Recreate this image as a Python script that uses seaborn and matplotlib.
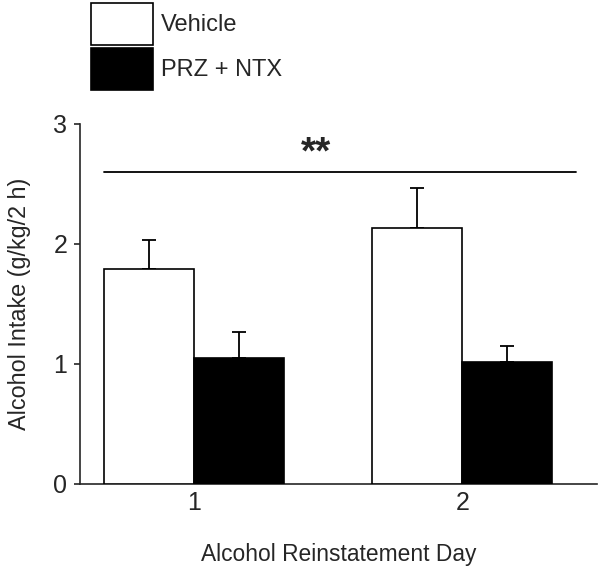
import numpy as np
import pandas as pd
import matplotlib
matplotlib.use("Agg")
import matplotlib.pyplot as plt
import seaborn as sns

days = ["1", "2"]
groups = ["Vehicle", "PRZ + NTX"]
vehicle_mean = [1.79, 2.13]
vehicle_sem = [0.24, 0.34]
prz_mean = [1.05, 1.02]
prz_sem = [0.22, 0.13]
sig_y = 2.6
sig_label = "**"

sns.set_style("ticks")
plt.rcParams["font.family"] = ["Liberation Sans", "DejaVu Sans"]

df = pd.DataFrame({
    "day": days * 2,
    "group": [groups[0]] * 2 + [groups[1]] * 2,
    "intake": vehicle_mean + prz_mean,
})
sems = [vehicle_sem, prz_sem]

fig = plt.figure(figsize=(6.01, 5.66), dpi=100)
ax = fig.add_axes([0.1331, 0.1449, 0.8597, 0.6361])

sns.barplot(data=df, x="day", y="intake", hue="group", hue_order=groups,
            palette=["white", "black"], edgecolor="black", linewidth=1.2,
            width=0.672, errorbar=None, ax=ax, zorder=3)

# upper-only SEM bars
for cont, sem in zip(ax.containers, sems):
    for bar, e in zip(cont, sem):
        xc = bar.get_x() + bar.get_width() / 2
        ax.errorbar(xc, bar.get_height(), yerr=[[0], [e]], fmt="none",
                    ecolor="black", elinewidth=1.3, capsize=5, capthick=1.3,
                    zorder=2)

# significance bar across both days
left = ax.containers[0][0].get_x()
ax.plot([left, 1.423], [sig_y, sig_y], color="black", lw=1.3, clip_on=False)
ax.text(0.453, sig_y + 0.0, sig_label, ha="center", va="bottom",
        fontsize=28, fontweight="bold")

ax.set_xlim(-0.4265, 1.5015)
ax.set_ylim(0, 3)
ax.set_yticks([0, 1, 2, 3])
ax.tick_params(axis="y", length=4, width=1.2, labelsize=18, pad=5)
ax.tick_params(axis="x", length=0, labelsize=18, pad=5)
ax.set_xlabel("Alcohol Reinstatement Day", fontsize=16.4, labelpad=20)
ax.set_ylabel("Alcohol Intake (g/kg/2 h)", fontsize=16.8, labelpad=16)
sns.despine(ax=ax)
for s in ["left", "bottom"]:
    ax.spines[s].set_linewidth(1.2)

handles, labels = ax.get_legend_handles_labels()
ax.legend(handles, labels, loc="upper left", bbox_to_anchor=(0.152, 0.995),
          bbox_transform=fig.transFigure, frameon=False, fontsize=17,
          handlelength=2.6, handleheight=2.35, labelspacing=0.15,
          handletextpad=0.35, borderpad=0, borderaxespad=0)

fig.savefig("out.png", dpi=100)
